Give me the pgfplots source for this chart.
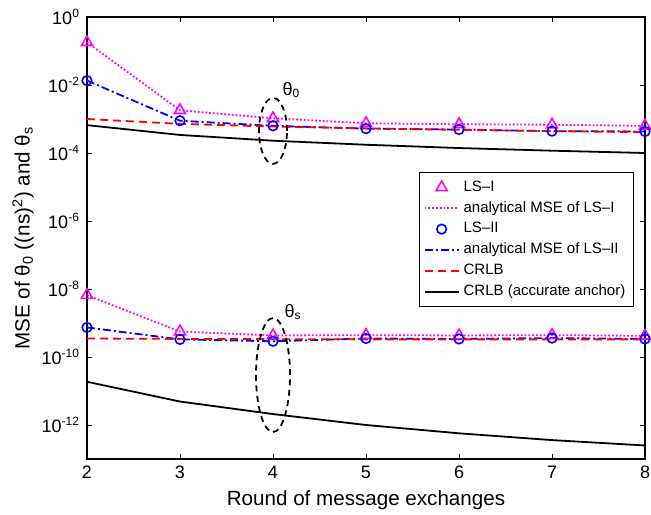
\documentclass[border=0pt]{standalone}
\usepackage{fontspec}
\setmainfont{Liberation Sans}
\usepackage{pgfplots}
\pgfplotsset{compat=1.18}
\definecolor{mag}{rgb}{1,0,1}
\definecolor{blu}{rgb}{0,0,1}
\definecolor{rd}{rgb}{1,0,0}
\begin{document}
\begin{tikzpicture}
\begin{axis}[
  name=ax,
  scale only axis,
  width=279pt, height=221pt,
  ymode=log,
  xmin=2, xmax=8, ymin=1e-13, ymax=1,
  xtick={2,3,4,5,6,7,8},
  ytick={1e-12,1e-10,1e-8,1e-6,1e-4,1e-2,1},
  yticklabels={10\textsuperscript{-12},10\textsuperscript{-10},10\textsuperscript{-8},10\textsuperscript{-6},10\textsuperscript{-4},10\textsuperscript{-2},10\textsuperscript{0}},
  minor ytick={},
  tick align=inside,
  major tick length=2.5pt,
  axis line style={line width=0.6pt},
  every tick/.style={line width=0.5pt, black},
  /pgf/number format/assume math mode=true,
  tick label style={font=\fontsize{9}{10}\selectfont},
  label style={font=\fontsize{10.3}{12}\selectfont},
  xlabel={Round of message exchanges},
  ylabel={MSE of θ\textsubscript{0} ((ns)\textsuperscript{2}) and θ\textsubscript{s}},
  ylabel shift=-3pt,
  xlabel shift=-1pt,
  clip=false,
  legend cell align=left,
  legend style={at={(rel axis cs:0.98,0.649)}, anchor=north east, draw=black, line width=0.5pt,
    font=\fontsize{7.5}{8.5}\selectfont, row sep=-0.4pt, inner sep=2pt},
]
% theta_0 group
\addplot[only marks, mark=triangle, mark size=3.2pt, mag, line width=0.8pt] coordinates {(2,0.18) (3,1.8e-3) (4,1.05e-3) (5,7.5e-4) (6,7e-4) (7,6.8e-4) (8,6.3e-4)};
\addlegendentry{LS–I}
\addplot[mag, densely dotted, line width=0.9pt] coordinates {(2,0.18) (3,1.8e-3) (4,1.05e-3) (5,7.5e-4) (6,7e-4) (7,6.8e-4) (8,6.3e-4)};
\addlegendentry{analytical MSE of LS–I}
\addplot[only marks, mark=o, mark size=2.4pt, blu, line width=0.8pt] coordinates {(2,1.35e-2) (3,8.9e-4) (4,6.3e-4) (5,5.2e-4) (6,4.9e-4) (7,4.4e-4) (8,4.3e-4)};
\addlegendentry{LS–II}
\addplot[blu, dash pattern=on 4pt off 1.5pt on 1pt off 1.5pt, line width=0.9pt] coordinates {(2,1.35e-2) (3,8.9e-4) (4,6.3e-4) (5,5.2e-4) (6,4.9e-4) (7,4.4e-4) (8,4.3e-4)};
\addlegendentry{analytical MSE of LS–II}
\addplot[rd, dash pattern=on 4pt off 2.5pt, line width=0.9pt] coordinates {(2,1.0e-3) (3,7.2e-4) (4,6.0e-4) (5,5.3e-4) (6,4.8e-4) (7,4.4e-4) (8,4.1e-4)};
\addlegendentry{CRLB}
\addplot[black, solid, line width=0.9pt] coordinates {(2,6.6e-4) (3,3.4e-4) (4,2.3e-4) (5,1.75e-4) (6,1.4e-4) (7,1.17e-4) (8,1.0e-4)};
\addlegendentry{CRLB (accurate anchor)}
% theta_s group
\addplot[forget plot, only marks, mark=triangle, mark size=3.2pt, mag, line width=0.8pt] coordinates {(2,6.6e-9) (3,5.6e-10) (4,4.3e-10) (5,4.4e-10) (6,4.3e-10) (7,4.4e-10) (8,4.2e-10)};
\addplot[forget plot, mag, densely dotted, line width=0.9pt] coordinates {(2,6.6e-9) (3,5.6e-10) (4,4.3e-10) (5,4.4e-10) (6,4.3e-10) (7,4.4e-10) (8,4.2e-10)};
\addplot[forget plot, only marks, mark=o, mark size=2.4pt, blu, line width=0.8pt] coordinates {(2,7.4e-10) (3,3.3e-10) (4,2.9e-10) (5,3.5e-10) (6,3.4e-10) (7,3.6e-10) (8,3.4e-10)};
\addplot[forget plot, blu, dash pattern=on 4pt off 1.5pt on 1pt off 1.5pt, line width=0.9pt] coordinates {(2,7.4e-10) (3,3.3e-10) (4,2.9e-10) (5,3.5e-10) (6,3.4e-10) (7,3.6e-10) (8,3.4e-10)};
\addplot[forget plot, rd, dash pattern=on 4pt off 2.5pt, line width=0.9pt] coordinates {(2,3.5e-10) (3,3.4e-10) (4,3.35e-10) (5,3.3e-10) (6,3.3e-10) (7,3.3e-10) (8,3.3e-10)};
\addplot[forget plot, black, solid, line width=0.9pt] coordinates {(2,1.87e-11) (3,4.9e-12) (4,2.1e-12) (5,1.0e-12) (6,5.7e-13) (7,3.6e-13) (8,2.5e-13)};
% annotations
\draw[black, line width=0.9pt, dash pattern=on 3pt off 2.2pt] (axis cs:4,4.47e-4) ellipse [x radius=7pt, y radius=16.5pt];
\draw[black, line width=0.9pt, dash pattern=on 3pt off 2.2pt] (axis cs:4,2.95e-11) ellipse [x radius=8.5pt, y radius=28.5pt];
\node[font=\fontsize{9}{10}\selectfont, anchor=west, inner sep=0pt] at (axis cs:4.1,7e-3) {θ\textsubscript{0}};
\node[font=\fontsize{9}{10}\selectfont, anchor=west, inner sep=0pt] at (axis cs:4.12,2.1e-9) {θ\textsubscript{s}};
\end{axis}
\pgfresetboundingbox
\path ([shift={(-43.5pt,-27.5pt)}]ax.south west) rectangle ([shift={(3pt,8.5pt)}]ax.north east);
\end{tikzpicture}
\end{document}
